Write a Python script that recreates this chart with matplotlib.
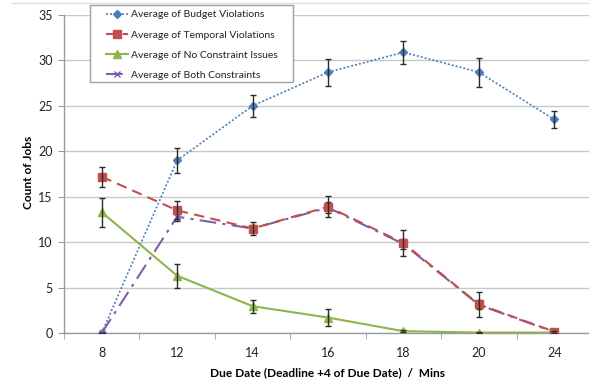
import matplotlib
matplotlib.use("Agg")
import matplotlib.pyplot as plt
from matplotlib.lines import Line2D
from matplotlib.patches import Rectangle
import numpy as np

due_dates = ["8", "12", "14", "16", "18", "20", "24"]

budget = [0.0, 19.0, 25.0, 28.7, 30.9, 28.7, 23.5]
budget_err = [0.0, 1.35, 1.2, 1.5, 1.25, 1.6, 0.95]

temporal = [17.2, 13.5, 11.5, 13.9, 9.9, 3.15, 0.15]
temporal_err = [1.1, 1.0, 0.7, 1.15, 1.4, 1.35, 0.1]

no_constraint = [13.3, 6.3, 2.95, 1.7, 0.2, 0.05, 0.05]
no_constraint_err = [1.6, 1.3, 0.7, 0.9, 0.1, 0.05, 0.05]

both = [0.0, 12.8, 11.5, 13.8, 9.8, 3.1, 0.1]
both_err = [0.0, 0.5, 0.4, 0.6, 0.6, 0.5, 0.1]

plt.rcParams["font.family"] = ["Lato", "DejaVu Sans"]

W, H = 589, 387
fig = plt.figure(figsize=(W / 100, H / 100), dpi=100)
ax = fig.add_axes([64 / W, 1 - 333 / H, 528 / W, (333 - 15) / H])

x = np.arange(len(due_dates))
ecol = "#2b2b2b"

styles = {
    "budget": dict(color="#4a7ebb", linestyle=(0, (1.2, 1.2)), marker="D", markersize=4, linewidth=1.2),
    "temporal": dict(color="#c0504d", linestyle=(0, (5, 3)), marker="s", markersize=6, linewidth=1.5),
    "none": dict(color="#8db548", linestyle="-", marker="^", markersize=5.5, linewidth=1.5),
    "both": dict(color="#7e5ea8", linestyle=(0, (8, 3, 1.5, 3)), marker="x", markersize=5, linewidth=1.5),
}

def series(vals, errs, style, z):
    ax.errorbar(x, vals, yerr=errs, fmt="none", ecolor=ecol, elinewidth=1.0,
                capsize=2.2, capthick=1.0, zorder=z + 1)
    ax.plot(x, vals, zorder=z, **style)

series(budget, budget_err, styles["budget"], 3)
series(no_constraint, no_constraint_err, styles["none"], 3)
series(both, both_err, styles["both"], 4)
series(temporal, temporal_err, styles["temporal"], 5)

ax.set_xlim(-0.5, len(due_dates) - 0.5)
ax.set_ylim(0, 35)
ax.set_yticks(np.arange(0, 36, 5))
ax.set_xticks(x)
ax.set_xticklabels(due_dates)
ax.set_xticks(np.arange(-0.5, len(due_dates), 1.0), minor=True)
ax.tick_params(axis="x", which="major", length=0, pad=10, labelsize=9, labelcolor="#222222")
ax.tick_params(axis="x", which="minor", length=4, color="#9a9a9a", direction="out")
ax.tick_params(axis="y", length=4, color="#9a9a9a", labelsize=9, labelcolor="#222222", pad=4)

ax.grid(axis="y", color="#c8c8c8", linewidth=1.0)
ax.set_axisbelow(True)
for s in ["top", "right"]:
    ax.spines[s].set_visible(False)
for s in ["left", "bottom"]:
    ax.spines[s].set_color("#9a9a9a")
    ax.spines[s].set_linewidth(1.0)

ax.set_ylabel("Count of Jobs", fontsize=8.6, fontweight="bold")
ax.yaxis.set_label_coords(34 / W, 1 - 172 / H, transform=fig.transFigure)
ax.set_xlabel("Due Date (Deadline +4 of Due Date)  /  Mins", fontsize=8.6,
              fontweight="bold", labelpad=6)

# legend frame drawn separately so the padding can be uneven
frame = Rectangle((90 / W, 1 - 82 / H), 203 / W, 77 / H, transform=fig.transFigure,
                  facecolor="white", edgecolor="#a0a0a0", linewidth=1.0,
                  zorder=19, clip_on=False)
ax.add_patch(frame)

handles = [Line2D([], [], **styles[k]) for k in ["budget", "temporal", "none", "both"]]
labels = ["Average of Budget Violations", "Average of Temporal Violations",
          "Average of No Constraint Issues", "Average of Both Constraints"]
leg = ax.legend(handles, labels, loc="upper left", bbox_to_anchor=(106 / W, 1 - 10 / H),
                bbox_transform=fig.transFigure, fontsize=7.5, frameon=False,
                handlelength=2.1, handletextpad=0.3, labelspacing=1.05, borderpad=0,
                borderaxespad=0)
leg.set_zorder(20)
for t in leg.get_texts():
    t.set_color("#222222")

fig.add_artist(Line2D([12 / W, 1.0], [1 - 3 / H, 1 - 3 / H], color="#e0e0e0",
                      linewidth=1.0, transform=fig.transFigure))

fig.savefig("out.png", dpi=100)
